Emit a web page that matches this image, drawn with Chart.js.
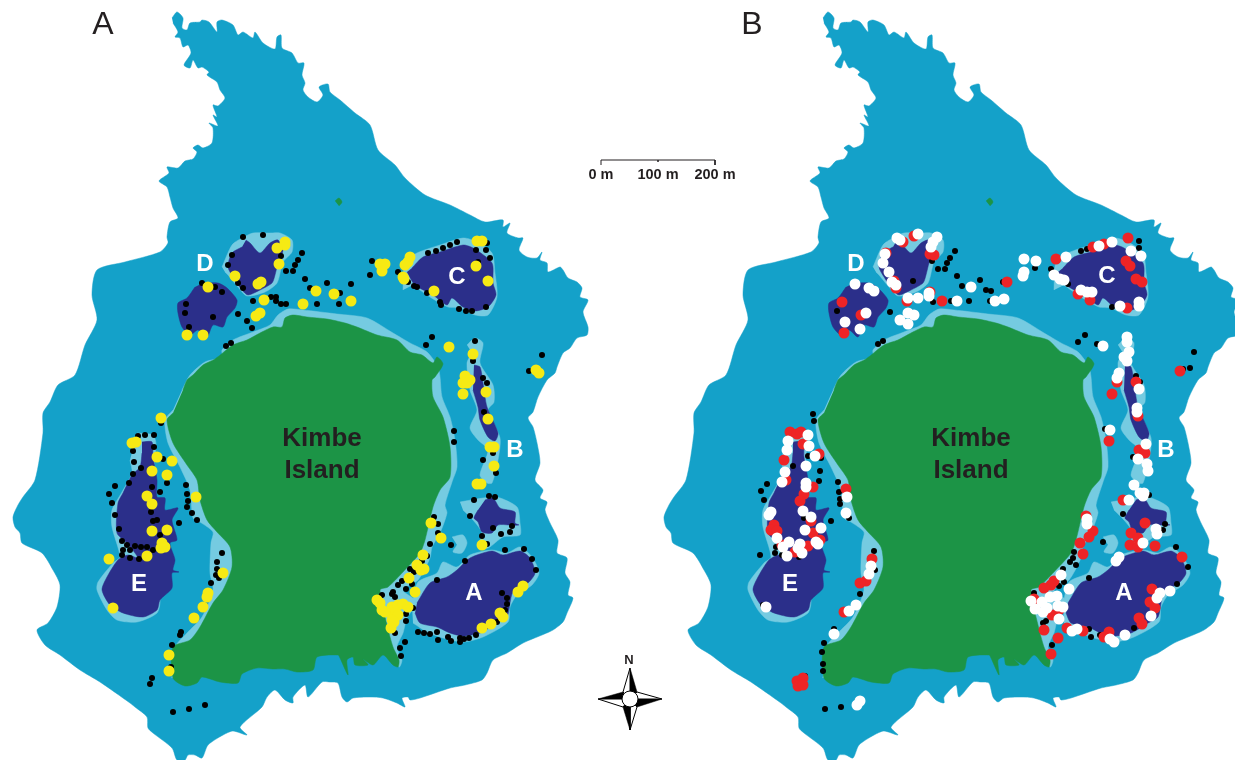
<!DOCTYPE html>
<html lang="en">
<head>
<meta charset="UTF-8">
<title>Kimbe Island reef map</title>
<script src="https://cdn.jsdelivr.net/npm/chart.js@4/dist/chart.umd.min.js"></script>
<style>
html, body { margin: 0; background: #fff; overflow: hidden; width: 1235px; height: 760px; }
/* Chart.js insets the plot by the largest point (8 + 1 px), canvas is grown by that so 1 unit = 1 px */
canvas { display: block; position: absolute; left: -9px; top: -9px; }
</style>
</head>
<body>
<canvas id="map" width="1253" height="778"></canvas>
<script>
// outlines, right panel is the same map shifted
const panelShift = 651;

const reefOutline = [[172,18],[177,12],[183,18],[182,28],[187,30],[190,23],[200,22],[202,20],[209,22],[217,32],[217,22],[222,20],[233,25],[238,35],[243,32],[253,38],[255,32],[263,43],[275,49],[277,37],[281,35],[282,48],[292,53],[298,63],[304,63],[302,75],[305,83],[303,90],[308,97],[317,102],[323,95],[319,87],[328,84],[330,92],[340,100],[355,113],[370,125],[378,150],[395,165],[405,178],[425,195],[450,205],[470,215],[485,222],[503,220],[503,227],[510,223],[507,233],[518,238],[523,238],[519,250],[527,257],[537,258],[542,252],[540,260],[547,263],[548,272],[560,267],[563,270],[568,278],[577,282],[582,288],[580,297],[588,300],[583,312],[588,327],[587,335],[577,338],[570,348],[563,353],[557,367],[555,373],[547,380],[538,397],[533,412],[528,418],[533,427],[537,443],[540,463],[535,480],[543,490],[540,498],[547,502],[545,510],[550,523],[558,540],[557,553],[567,558],[565,573],[570,582],[568,595],[573,598],[567,613],[563,622],[553,630],[542,635],[523,643],[507,653],[493,660],[487,673],[482,680],[465,685],[450,688],[420,698],[410,700],[408,697],[402,698],[405,707],[397,703],[383,698],[370,697],[353,698],[347,702],[342,697],[338,683],[330,682],[322,682],[308,697],[305,685],[293,697],[293,703],[285,700],[275,690],[267,697],[262,707],[240,727],[247,735],[233,731],[223,735],[208,745],[202,758],[195,755],[188,755],[185,760],[177,760],[172,748],[153,733],[148,728],[147,717],[135,707],[130,703],[100,682],[80,670],[60,655],[45,645],[37,630],[48,623],[57,607],[60,585],[53,570],[42,553],[22,543],[20,533],[15,527],[13,517],[18,505],[23,497],[35,480],[43,433],[43,413],[50,402],[58,385],[75,375],[85,345],[97,320],[92,295],[97,270],[125,262],[160,252],[168,243],[167,237],[170,222],[178,218],[173,208],[170,197],[167,187],[159,181],[169,173],[167,167],[178,168],[185,161],[193,159],[197,152],[193,148],[198,145],[203,148],[212,143],[213,128],[209,123],[218,126],[213,115],[217,117],[213,105],[218,106],[225,98],[220,90],[217,82],[207,75],[209,72],[202,67],[198,68],[193,60],[190,68],[184,65],[191,53],[188,45],[183,47],[180,38],[175,37],[178,32],[173,23]];

const islandFringe = [[182,390],[190,375],[205,362],[222,357],[222,350],[233,340],[253,332],[270,325],[278,315],[288,309],[303,310],[337,314],[367,318],[393,333],[410,343],[427,352],[438,367],[440,377],[442,397],[450,417],[455,440],[457,467],[452,482],[445,505],[447,513],[440,533],[432,547],[430,558],[418,580],[403,590],[415,600],[415,606],[407,618],[403,633],[397,647],[402,660],[399,667],[385,640],[300,640],[185,660],[172,678],[173,672],[175,647],[187,633],[202,617],[213,590],[210,573],[211,543],[213,532],[200,522],[193,518],[190,490],[180,467],[168,443],[165,420],[173,410]];

const islandLand = [[183,390],[187,380],[193,375],[203,365],[215,359],[233,345],[247,340],[260,333],[273,327],[282,327],[285,318],[293,315],[307,317],[327,319],[345,323],[357,327],[377,335],[397,340],[410,352],[422,355],[433,363],[437,357],[443,364],[435,377],[432,380],[433,397],[443,417],[450,447],[450,477],[440,490],[433,507],[425,540],[420,553],[403,572],[388,587],[380,590],[387,625],[393,647],[399,660],[398,667],[393,665],[383,655],[373,665],[363,659],[368,665],[355,665],[353,657],[347,660],[348,675],[340,658],[338,655],[317,657],[313,670],[297,672],[285,669],[273,669],[257,668],[242,674],[238,683],[220,682],[202,677],[197,683],[185,686],[173,678],[173,647],[190,640],[200,627],[213,603],[223,590],[232,567],[230,547],[217,532],[207,520],[200,500],[197,480],[187,465],[173,443],[167,420],[173,413]];

const islet = [[335,201],[339,198],[342,202],[339,206]];

const fringePatches = [
  [[222,267],[232,245],[242,238],[253,233],[270,233],[280,233],[292,240],[292,252],[283,262],[277,283],[265,292],[247,296],[238,287],[228,275],[225,272]],
  [[403,290],[405,262],[417,253],[440,245],[463,238],[477,242],[492,253],[495,273],[497,297],[488,315],[475,315],[460,308],[448,307],[430,297],[413,285]],
  [[467,345],[475,338],[483,343],[480,363],[493,385],[494,402],[488,410],[500,438],[498,460],[492,483],[487,483],[480,475],[488,450],[478,440],[470,428],[477,410],[470,390],[467,363],[472,353]],
  [[460,502],[483,498],[497,497],[517,507],[520,523],[520,535],[503,537],[488,548],[478,547],[482,533],[473,520],[463,510]],
  [[452,537],[463,535],[467,543],[462,553],[453,552],[457,545]],
  [[412,605],[418,582],[437,573],[443,562],[457,567],[470,555],[492,550],[507,553],[520,547],[532,557],[539,573],[532,585],[517,595],[510,607],[508,622],[483,637],[463,642],[443,638],[427,632],[413,623]],
  [[137,433],[153,435],[156,445],[150,500],[150,560],[160,598],[157,613],[137,622],[117,620],[107,610],[97,590],[98,582],[113,563],[120,557],[112,527],[112,510],[122,492],[132,473],[130,460]]
];

const reefPatches = [
  [[246,240],[250,243],[260,253],[270,243],[278,240],[283,250],[278,263],[275,275],[272,283],[260,290],[248,295],[242,290],[235,280],[228,267],[232,253],[242,247]],
  [[203,283],[218,283],[227,288],[237,300],[235,308],[227,317],[223,327],[213,325],[207,337],[198,330],[190,335],[182,327],[178,313],[178,303],[187,298],[195,287]],
  [[412,268],[423,257],[440,252],[463,245],[473,248],[492,263],[493,283],[496,295],[488,307],[475,311],[463,307],[452,298],[447,305],[433,295],[415,285],[407,272]],
  [[474,365],[480,367],[483,383],[487,407],[498,433],[495,441],[488,437],[480,420],[478,407],[473,390]],
  [[485,500],[493,498],[500,508],[515,512],[515,523],[519,525],[510,525],[498,525],[492,533],[482,532],[478,522],[474,518],[478,510]],
  [[417,603],[430,583],[447,577],[457,570],[470,558],[492,551],[503,555],[520,551],[530,558],[535,573],[528,583],[513,592],[510,603],[507,617],[497,623],[480,633],[463,636],[450,633],[437,627],[420,623],[415,613]],
  [[142,442],[152,442],[153,457],[157,480],[157,497],[165,498],[165,510],[178,508],[172,520],[177,540],[170,543],[175,560],[173,570],[179,572],[172,573],[172,588],[160,600],[157,610],[143,617],[123,613],[110,605],[102,590],[107,577],[118,560],[128,555],[138,558],[127,543],[117,533],[118,503],[123,493],[132,475],[140,467],[142,453]]
];

// survey points, panel A
const blackA = [[243,237],[263,235],[232,255],[228,265],[238,283],[243,288],[281,256],[286,271],[293,271],[295,265],[298,260],[302,253],[305,279],[310,288],[327,283],[351,284],[340,293],[339,304],[317,304],[286,304],[281,304],[276,301],[271,297],[276,297],[253,301],[238,314],[247,321],[252,328],[231,343],[226,346],[213,317],[189,327],[185,313],[186,304],[222,292],[215,287],[202,283],[372,261],[370,275],[398,272],[408,282],[414,286],[417,287],[427,293],[440,302],[441,305],[459,309],[466,311],[472,311],[486,307],[428,253],[436,251],[443,248],[450,245],[457,242],[487,243],[476,250],[486,250],[490,258],[478,262],[432,337],[426,345],[475,341],[473,361],[483,378],[487,383],[484,412],[454,431],[454,442],[493,453],[483,460],[496,473],[542,355],[529,371],[489,496],[495,497],[474,500],[161,423],[138,436],[145,435],[154,435],[154,447],[133,451],[134,462],[163,459],[141,468],[133,474],[129,483],[115,486],[109,494],[112,503],[115,515],[119,529],[152,487],[160,492],[167,483],[151,512],[153,521],[157,520],[179,523],[160,535],[122,541],[127,545],[135,546],[141,547],[147,547],[153,550],[123,550],[130,550],[122,555],[130,558],[139,559],[186,485],[187,494],[188,501],[187,507],[192,513],[197,520],[222,553],[217,562],[217,569],[216,575],[219,578],[211,583],[181,632],[180,635],[470,516],[493,528],[512,526],[510,532],[501,534],[482,536],[487,544],[434,517],[438,524],[438,533],[430,544],[451,545],[465,561],[505,550],[524,549],[532,559],[536,570],[437,580],[502,593],[507,598],[507,604],[505,610],[497,622],[476,635],[469,638],[464,639],[460,638],[460,642],[451,641],[448,637],[438,640],[437,632],[430,634],[424,633],[418,632],[395,633],[405,642],[400,648],[401,656],[406,621],[406,614],[412,584],[406,589],[398,585],[402,581],[410,569],[414,572],[427,556],[422,561],[382,595],[393,592],[392,594],[395,597],[413,608],[172,645],[171,667],[152,678],[150,684],[205,705],[189,709],[173,712]];
const yellowA = [[285,242],[285,245],[277,248],[279,264],[235,276],[261,282],[258,284],[208,287],[264,300],[316,291],[334,294],[303,304],[351,301],[260,313],[256,316],[187,335],[203,335],[380,264],[385,264],[382,271],[410,257],[408,262],[405,265],[403,277],[404,279],[434,291],[476,266],[488,281],[477,241],[482,241],[449,347],[473,354],[465,376],[470,380],[463,383],[467,383],[463,394],[486,392],[488,419],[490,447],[494,447],[494,466],[477,484],[481,484],[536,370],[539,373],[161,418],[132,443],[136,442],[157,457],[172,461],[152,471],[167,475],[196,497],[147,496],[152,504],[152,531],[167,530],[162,543],[165,547],[161,548],[147,556],[109,559],[223,573],[208,593],[207,597],[203,607],[194,618],[113,608],[431,523],[441,538],[482,545],[423,555],[417,565],[424,569],[421,570],[409,578],[415,592],[377,600],[380,603],[382,610],[392,607],[398,605],[403,604],[408,607],[393,613],[398,615],[392,620],[394,622],[391,628],[385,612],[523,586],[518,592],[500,613],[503,617],[491,624],[482,628],[169,655],[169,671]];

// survey points, panel B
const blackB = [[955,251],[950,258],[947,263],[945,269],[938,269],[957,276],[932,261],[913,281],[962,286],[980,280],[986,290],[991,291],[1003,282],[969,301],[933,302],[890,312],[837,311],[883,341],[878,344],[1051,269],[1035,268],[1081,251],[1087,249],[1068,284],[1139,241],[1139,248],[1112,307],[1085,335],[1078,342],[990,301],[951,301],[813,414],[814,421],[767,484],[761,491],[764,500],[793,466],[808,456],[820,471],[819,481],[838,482],[839,492],[840,499],[840,504],[849,518],[831,521],[804,518],[776,547],[775,553],[760,555],[782,555],[799,557],[874,551],[875,570],[860,594],[834,629],[824,643],[822,652],[823,664],[823,671],[805,676],[841,707],[825,709],[763,605],[821,458],[1097,344],[1194,352],[1190,368],[1183,369],[1136,376],[1140,382],[1105,429],[1123,514],[1165,524],[1163,530],[1103,542],[1074,552],[1073,558],[1070,562],[1076,565],[1063,569],[1188,567],[1176,547],[1149,495],[1133,457],[1177,584],[1089,578],[1064,582],[1059,586],[1034,593],[1046,621],[1043,623],[1089,629],[1091,637],[1134,628],[1052,645],[1100,635]];
const redB = [[903,242],[914,236],[934,255],[930,254],[886,253],[896,288],[894,281],[842,302],[861,315],[844,333],[907,301],[930,292],[942,301],[1007,282],[1056,259],[1078,294],[1090,300],[1093,247],[1104,244],[1128,238],[1126,261],[1130,266],[1136,279],[1142,282],[1127,308],[790,432],[797,434],[801,432],[803,444],[784,460],[819,454],[786,480],[813,487],[804,494],[800,501],[811,521],[774,525],[771,530],[777,531],[813,533],[820,540],[808,546],[795,552],[782,545],[846,489],[872,559],[866,581],[860,583],[844,612],[797,681],[803,678],[798,686],[803,685],[1117,382],[1112,394],[1136,382],[1138,416],[1109,441],[1139,450],[1145,453],[1123,500],[1180,371],[1086,516],[1093,531],[1089,537],[1080,543],[1083,554],[1145,523],[1131,533],[1130,545],[1138,538],[1138,547],[1155,546],[1182,557],[1054,581],[1051,585],[1044,588],[1152,589],[1150,602],[1155,608],[1139,618],[1142,624],[1067,628],[1083,631],[1044,630],[1058,638],[1051,654],[1109,632],[1104,637],[1052,615],[1059,610],[1034,599]];
const whiteB = [[897,238],[900,240],[918,234],[937,237],[933,242],[931,247],[885,254],[883,263],[889,272],[892,282],[896,285],[855,284],[869,288],[874,291],[866,313],[845,322],[860,329],[908,298],[918,298],[929,293],[929,296],[957,301],[971,287],[995,301],[1004,299],[1024,259],[1036,261],[1024,272],[1023,276],[908,313],[914,315],[900,320],[908,324],[1066,257],[1054,275],[1060,279],[1064,280],[1081,290],[1087,292],[1092,292],[1099,246],[1112,242],[1131,251],[1141,256],[1139,302],[1139,306],[1120,306],[1103,346],[1127,337],[1127,342],[808,435],[788,441],[809,446],[787,450],[815,456],[806,466],[785,472],[782,482],[806,483],[806,487],[803,511],[811,517],[771,512],[769,515],[805,530],[821,528],[777,538],[789,542],[783,547],[787,556],[800,544],[798,548],[802,553],[816,542],[818,544],[766,607],[847,497],[846,513],[871,566],[869,574],[856,605],[849,611],[834,634],[860,701],[857,705],[1129,352],[1124,357],[1127,361],[1119,373],[1117,378],[1139,389],[1137,408],[1137,412],[1110,430],[1146,444],[1138,459],[1147,464],[1148,471],[1134,485],[1140,493],[1144,493],[1143,496],[1129,500],[1156,529],[1157,534],[1143,543],[1087,519],[1087,524],[1119,557],[1116,561],[1061,575],[1069,589],[1170,591],[1160,593],[1157,598],[1031,601],[1035,609],[1042,602],[1047,608],[1043,612],[1050,597],[1057,596],[1058,606],[1063,607],[1059,619],[1151,616],[1125,635],[1077,629],[1072,631],[1110,639],[1114,642]];

// scale bar and compass
const scaleBar = [[601,165],[601,160],[658,160],[658,162],[658,160],[715,160],[715,165]];
const scaleLabels = ['0 m', '100 m', '200 m'];
const scaleLabelX = [601, 658, 715];
const compassBlack = [
  [[630,668],[637,692],[630,699]],
  [[662,699],[637,707],[630,699]],
  [[630,730],[623,707],[630,699]],
  [[598,699],[623,692],[630,699]]
];
const compassOpen = [
  [[630,668],[623,692],[630,699]],
  [[662,699],[637,692],[630,699]],
  [[630,730],[637,707],[630,699]],
  [[598,699],[623,707],[630,699]]
];

const mapLabels = [
  ['A', 103, 25, '32px', '#231f20', 'normal'],
  ['B', 752, 25, '32px', '#231f20', 'normal'],
  ['Kimbe', 322, 439, '26px', '#231f20', 'bold'],
  ['Island', 322, 471, '26px', '#231f20', 'bold'],
  ['Kimbe', 971, 439, '26px', '#231f20', 'bold'],
  ['Island', 971, 471, '26px', '#231f20', 'bold'],
  ['D', 205, 264, '24px', '#fff', 'bold'],
  ['C', 457, 277, '24px', '#fff', 'bold'],
  ['B', 515, 450, '24px', '#fff', 'bold'],
  ['E', 139, 584, '24px', '#fff', 'bold'],
  ['A', 474, 593, '24px', '#fff', 'bold'],
  ['D', 856, 264, '24px', '#fff', 'bold'],
  ['C', 1107, 276, '24px', '#fff', 'bold'],
  ['B', 1166, 450, '24px', '#fff', 'bold'],
  ['E', 790, 584, '24px', '#fff', 'bold'],
  ['A', 1124, 593, '24px', '#fff', 'bold'],
  ['N', 629, 660, '13px', '#231f20', 'bold']
];

const REEF = '#14a1c9', FRINGE = '#75cbe1', NAVY = '#2b2f8a', LAND = '#1c9446';

function toXY(pts, dx) {
  return pts.map(p => ({ x: p[0] + dx, y: p[1] }));
}
function shape(pts, color, dx, tension) {
  return { data: toXY(pts, dx), showLine: true, fill: 'shape', backgroundColor: color, tension: tension,
           borderColor: color, borderWidth: 0.5, pointRadius: 0 };
}
function dots(pts, color, r) {
  return { data: toXY(pts, 0), showLine: false, backgroundColor: color, borderWidth: 0, pointRadius: r };
}

const datasets = [];
[0, panelShift].forEach(dx => {
  datasets.push(shape(reefOutline, REEF, dx, 0.25));
  fringePatches.forEach(p => datasets.push(shape(p, FRINGE, dx, 0.25)));
  reefPatches.forEach(p => datasets.push(shape(p, NAVY, dx, 0.25)));
  datasets.push(shape(islandFringe, FRINGE, dx, 0.25));
  datasets.push(shape(islandLand, LAND, dx, 0.25));
  datasets.push(shape(islet, LAND, dx, 0.25));
});
datasets.push(dots(blackA, '#000', 3));
datasets.push(dots(yellowA, '#f6ea14', 5.5));
datasets.push(dots(blackB, '#000', 3));
datasets.push(dots(redB, '#ee2426', 5.5));
datasets.push(dots(whiteB, '#fff', 5.5));

datasets.push({ data: toXY(scaleBar, 0), showLine: true, fill: false, borderColor: '#231f20', borderWidth: 1, pointRadius: 0, tension: 0 });
compassOpen.forEach(p => datasets.push({ data: toXY(p.concat([p[0]]), 0), showLine: true, fill: 'shape', tension: 0,
  backgroundColor: '#fff', borderColor: '#000', borderWidth: 1, pointRadius: 0 }));
compassBlack.forEach(p => datasets.push(shape(p, '#000', 0, 0)));
datasets.push({ data: [{ x: 630, y: 699 }], showLine: false, backgroundColor: '#fff', borderColor: '#000', borderWidth: 1, pointRadius: 8 });

// later datasets go on top
datasets.forEach((d, i) => { d.order = datasets.length - i; });

const mapText = {
  id: 'mapText',
  afterDatasetsDraw(chart) {
    const ctx = chart.ctx, xs = chart.scales.x, ys = chart.scales.y;
    ctx.save();
    ctx.textAlign = 'center';
    ctx.textBaseline = 'middle';
    mapLabels.forEach(l => {
      ctx.font = l[5] + ' ' + l[3] + ' "Liberation Sans", Arial, sans-serif';
      ctx.fillStyle = l[4];
      ctx.fillText(l[0], xs.getPixelForValue(l[1]), ys.getPixelForValue(l[2]));
    });
    ctx.font = 'bold 14.5px "Liberation Sans", Arial, sans-serif';
    ctx.fillStyle = '#231f20';
    scaleLabels.forEach((t, i) => {
      ctx.fillText(t, xs.getPixelForValue(scaleLabelX[i]), ys.getPixelForValue(175));
    });
    ctx.restore();
  }
};

new Chart(document.getElementById('map'), {
  type: 'scatter',
  data: { datasets: datasets },
  plugins: [mapText],
  options: {
    responsive: false,
    animation: false,
    layout: { padding: 0 },
    plugins: { legend: { display: false }, tooltip: { enabled: false } },
    scales: {
      x: { display: false, min: 0, max: 1235 },
      y: { display: false, min: 0, max: 760, reverse: true }
    }
  }
});
</script>
</body>
</html>
